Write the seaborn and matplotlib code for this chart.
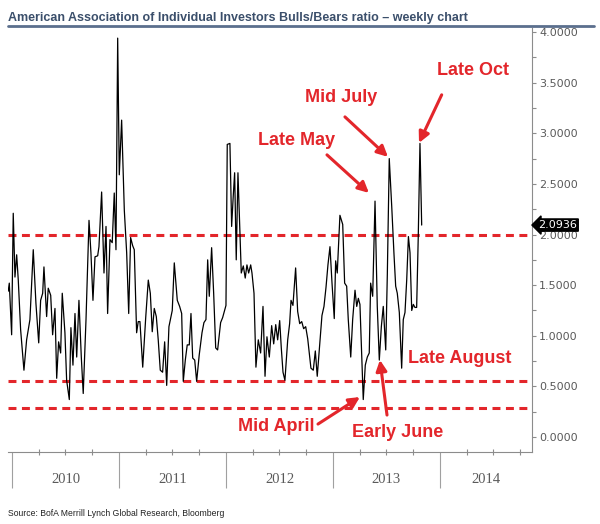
import numpy as np
import pandas as pd
import seaborn as sns
import matplotlib.pyplot as plt
import matplotlib.ticker as mticker
import matplotlib.transforms as mtransforms
from matplotlib.lines import Line2D

# AAII bulls/bears ratio (x = years since start of 2010)
years_since_2010 = [
    -0.035, -0.025, -0.003, 0.012, 0.028, 0.044, 0.059, 0.081, 0.112, 0.137,
    0.168, 0.199, 0.224, 0.250, 0.268, 0.287, 0.299, 0.324, 0.339, 0.362,
    0.380, 0.402, 0.418, 0.436, 0.455, 0.470, 0.495, 0.511, 0.536, 0.551,
    0.570, 0.589, 0.605, 0.626, 0.648, 0.666, 0.692, 0.720,
    0.738, 0.757, 0.776, 0.801, 0.813, 0.838, 0.860, 0.879, 0.894, 0.916,
    0.937, 0.956, 0.972, 0.988, 1.003, 1.025, 1.050, 1.072, 1.091, 1.109,
    1.128, 1.143, 1.165, 1.180, 1.196, 1.222, 1.250, 1.274, 1.293, 1.311,
    1.330, 1.349, 1.367, 1.386, 1.408, 1.427, 1.446, 1.467, 1.498, 1.517,
    1.545, 1.567, 1.586, 1.601, 1.620, 1.638, 1.657, 1.673, 1.689, 1.708,
    1.726, 1.750, 1.776, 1.794, 1.813, 1.829, 1.844, 1.866, 1.885, 1.904,
    1.922, 1.937, 1.950, 1.969, 1.984, 2.000, 2.012, 2.037, 2.053, 2.068,
    2.081, 2.096, 2.112, 2.131, 2.143, 2.162, 2.180, 2.196, 2.212, 2.231,
    2.243, 2.262, 2.280, 2.302,
    2.324, 2.346, 2.365, 2.383, 2.405, 2.427, 2.446, 2.465, 2.483, 2.502,
    2.517, 2.533, 2.551, 2.577, 2.595, 2.608, 2.626, 2.651, 2.670, 2.689,
    2.708, 2.726, 2.745, 2.764, 2.782, 2.794, 2.816, 2.835, 2.853, 2.879,
    2.897, 2.916, 2.935, 2.953, 2.972, 2.991, 3.012, 3.025, 3.040, 3.065,
    3.091,
    3.109, 3.128, 3.143, 3.166, 3.184, 3.206, 3.222, 3.237, 3.252, 3.268,
    3.283, 3.302, 3.321, 3.339, 3.352, 3.371, 3.393, 3.414, 3.433, 3.452,
    3.470, 3.493, 3.508, 3.526, 3.549, 3.570, 3.586, 3.601, 3.620, 3.642,
    3.657, 3.673, 3.689, 3.705, 3.720, 3.736, 3.751, 3.766, 3.782, 3.797,
    3.813, 3.829,
]
ratio = [
    1.44, 1.52, 1.01, 2.21, 1.58, 1.80, 1.55, 1.06, 0.66, 0.96,
    1.16, 1.85, 1.32, 0.93, 1.35, 1.42, 1.68, 1.19, 1.47, 1.40,
    1.01, 1.27, 0.58, 0.94, 0.83, 1.42, 1.03, 0.56, 0.37, 1.08,
    0.71, 1.22, 0.79, 1.35, 0.79, 0.43, 1.16, 2.14,
    1.82, 1.35, 1.78, 1.79, 1.88, 2.42, 1.62, 2.08, 1.22, 1.95,
    1.92, 2.41, 1.85, 3.94, 2.59, 3.13, 2.24, 1.82, 1.22, 1.97,
    1.89, 1.85, 1.03, 1.14, 1.14, 0.69, 1.18, 1.55, 1.42, 1.04,
    1.27, 1.19, 0.96, 0.66, 0.64, 0.94, 0.51, 1.09, 1.25, 1.72,
    1.35, 1.29, 1.22, 0.55, 0.76, 0.91, 0.91, 1.22, 0.78, 0.76,
    0.55, 0.81, 1.03, 1.13, 1.16, 1.75, 1.39, 1.87, 1.42, 0.88,
    0.86, 1.00, 1.13, 1.18, 1.24, 1.30, 2.89, 2.90, 2.08, 2.38,
    2.61, 1.75, 2.61, 2.00, 1.62, 1.69, 1.57, 1.70, 1.62, 1.70,
    1.62, 1.42, 0.69, 0.96,
    0.83, 1.29, 0.60, 0.99, 0.79, 1.10, 0.92, 1.11, 0.96, 1.15,
    0.88, 0.64, 0.56, 0.96, 1.12, 1.35, 1.30, 1.67, 1.24, 1.12,
    1.14, 1.07, 1.09, 0.97, 0.80, 0.68, 0.66, 0.85, 0.60, 0.96,
    1.20, 1.29, 1.48, 1.70, 1.88, 1.52, 1.17, 1.74, 1.62, 2.19,
    2.10,
    1.52, 1.49, 1.16, 0.79, 1.16, 1.45, 1.29, 1.37, 1.31, 0.84,
    0.37, 0.71, 0.79, 0.83, 1.52, 1.39, 2.33, 1.29, 0.76, 1.09,
    1.29, 0.86, 1.61, 2.75, 2.28, 1.81, 1.49, 1.42, 1.23, 0.68,
    1.16, 1.23, 1.55, 1.98, 1.82, 1.25, 1.31, 1.28, 1.28, 1.98,
    2.90, 2.0936,
]
ref_levels = [2.0, 0.55, 0.29]
year_labels = [2010, 2011, 2012, 2013, 2014]

RED = '#e3262b'
GREY = '#8c8c8c'

sns.set_theme(style='white')
plt.rcParams['font.family'] = ['Liberation Sans', 'DejaVu Sans']

df = pd.DataFrame({'date': 2010 + np.array(years_since_2010), 'ratio': ratio})

fig = plt.figure(figsize=(6, 5.24), dpi=100)
ax = fig.add_axes([8 / 600, 1 - 452 / 524, 524 / 600, 424 / 524])

sns.lineplot(data=df, x='date', y='ratio', ax=ax, color='black', lw=0.9)
for lvl in ref_levels:
    ax.axhline(lvl, color=RED, lw=2.2, dashes=(2.6, 1.8), zorder=1)

ax.set_xlim(2009.963, 2014.86)
ax.set_ylim(-0.148, 4.04)
ax.set_xlabel('')
ax.set_ylabel('')

for side in ['left', 'top']:
    ax.spines[side].set_visible(False)
for side in ['right', 'bottom']:
    ax.spines[side].set_color(GREY)
    ax.spines[side].set_linewidth(0.8)

# right hand value axis
ax.yaxis.tick_right()
ax.yaxis.set_major_locator(mticker.MultipleLocator(0.5))
ax.yaxis.set_minor_locator(mticker.MultipleLocator(0.25))
ax.yaxis.set_major_formatter(mticker.FormatStrFormatter('%.4f'))
ax.tick_params(axis='y', which='both', direction='out', length=3, width=0.8,
               color=GREY, labelsize=8, labelcolor='#5a5a5a', pad=2, right=True, left=False)
for lab in ax.get_yticklabels():
    lab.set_family('DejaVu Sans')

# year band below the chart
ax.xaxis.set_major_locator(mticker.FixedLocator(year_labels))
ax.xaxis.set_minor_locator(mticker.MultipleLocator(0.25))
ax.tick_params(axis='x', which='major', direction='out', length=26, width=0.8,
               color='#a0a0a0', labelbottom=False, bottom=True)
ax.tick_params(axis='x', which='minor', direction='inout', length=4, width=0.8,
               color=GREY, bottom=True)
xmax = ax.get_xlim()[1]
trans = mtransforms.blended_transform_factory(ax.transData, ax.transAxes)
for yr in year_labels:
    ax.text((yr + min(yr + 1, xmax)) / 2, -0.066, str(yr), transform=trans,
            ha='center', va='center', fontsize=10.5, color='#5a5a5a',
            family='Liberation Serif')

# last value tag
ytrans = mtransforms.blended_transform_factory(ax.transAxes, ax.transData)
ax.text(1.012, ratio[-1], f'{ratio[-1]:.4f}', transform=ytrans, ha='left', va='center',
        fontsize=8, color='white', family='DejaVu Sans',
        bbox=dict(boxstyle='larrow,pad=0.1', fc='black', ec='black'))

# callouts
def callout(label, text_xy, start, tip):
    ax.text(*text_xy, label, color=RED, fontsize=13, fontweight='bold',
            ha='center', va='center')
    if start is not None:
        ax.annotate('', xy=tip, xytext=start,
                    arrowprops=dict(arrowstyle='-|>', color=RED, lw=2.2,
                                    mutation_scale=16, shrinkA=0, shrinkB=0))

callout('Late Oct', (2014.308, 3.617), (2014.016, 3.38), (2013.804, 2.905))
callout('Mid July', (2013.075, 3.35), (2013.112, 3.162), (2013.514, 2.767))
callout('Late May', (2012.664, 2.925), (2012.944, 2.787), (2013.336, 2.411))
callout('Late August', (2014.182, 0.771), None, None)
callout('Mid April', (2012.467, 0.099), (2012.860, 0.128), (2013.252, 0.395))
callout('Early June', (2013.607, 0.04), (2013.505, 0.217), (2013.439, 0.761))

# title and source
fig.text(8 / 600, 1 - 17.5 / 524,
         'American Association of Individual Investors Bulls/Bears ratio \u2013 weekly chart',
         fontsize=9, fontweight='bold', color='#3b4f6b', va='center',
         family=['Liberation Sans Narrow', 'Liberation Sans'])
fig.add_artist(Line2D([8 / 600, 594 / 600], [1 - 25.5 / 524] * 2,
                      transform=fig.transFigure, color='#5b6f8d', lw=2))
fig.text(8 / 600, 1 - 513 / 524, 'Source: BofA Merrill Lynch Global Research, Bloomberg',
         fontsize=6.2, color='#222222', va='center',
         family=['Liberation Sans Narrow', 'Liberation Sans'])

fig.savefig('out.png', dpi=100, facecolor='white')
